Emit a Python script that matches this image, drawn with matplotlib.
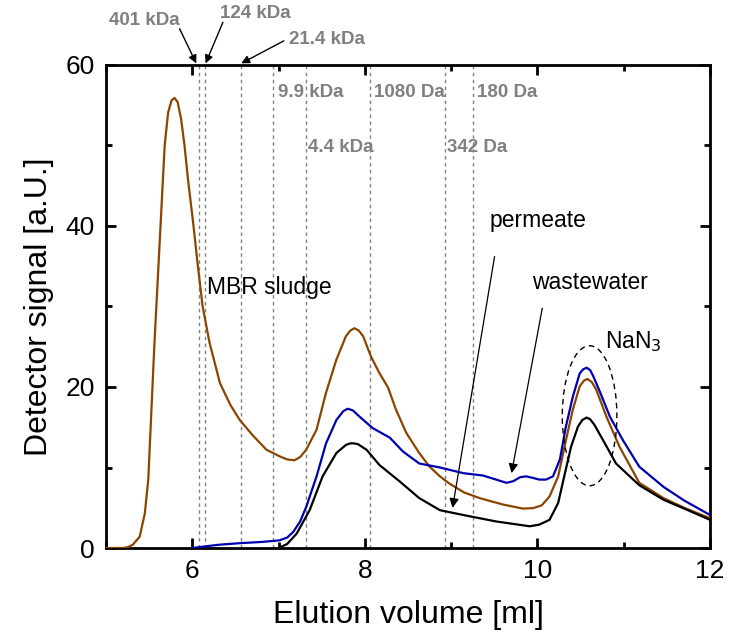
import numpy as np
import matplotlib
matplotlib.use('Agg')
import matplotlib.pyplot as plt
from matplotlib.patches import Ellipse
from matplotlib.ticker import MultipleLocator

plt.rcParams['font.family'] = ['Liberation Sans', 'DejaVu Sans']

# MBR sludge (brown)
sludge_x = [5.0, 5.1, 5.196, 5.25, 5.31, 5.39, 5.45, 5.49, 5.525, 5.56, 5.60, 5.64, 5.68, 5.72,
            5.76, 5.795, 5.83, 5.87, 5.91, 5.95, 6.01, 6.065, 6.12, 6.20, 6.32, 6.44, 6.55,
            6.70, 6.86, 7.01, 7.10, 7.185, 7.25, 7.32, 7.44, 7.55, 7.67, 7.78, 7.83, 7.88,
            7.93, 7.98, 8.07, 8.17, 8.27, 8.36, 8.48, 8.63, 8.75, 8.87, 8.98, 9.15, 9.33,
            9.60, 9.83, 9.95, 10.05, 10.14, 10.24, 10.33, 10.41, 10.49, 10.54, 10.58, 10.63,
            10.68, 10.80, 10.95, 11.18, 11.46, 11.7, 12.0]
sludge_y = [0.0, 0.0, 0.0, 0.1, 0.4, 1.4, 4.3, 8.5, 16.8, 25.1, 33.4, 41.7, 50.0, 54.1,
            55.6, 55.9, 55.4, 53.3, 50.0, 45.8, 40.4, 35.0, 30.0, 25.5, 20.5, 17.8, 15.9,
            14.0, 12.2, 11.4, 11.0, 10.9, 11.3, 12.2, 14.7, 19.3, 23.4, 26.3, 27.0, 27.3,
            27.0, 26.3, 23.8, 21.7, 19.9, 17.2, 14.3, 11.8, 10.1, 8.9, 8.0, 6.9, 6.2,
            5.4, 4.9, 4.95, 5.3, 6.4, 8.9, 13.4, 17.2, 20.1, 20.8, 21.0, 20.6,
            19.7, 16.3, 12.6, 8.1, 6.2, 5.0, 3.7]

# wastewater (blue)
waste_x = [6.0, 6.3, 6.55, 6.8, 7.01, 7.10, 7.17, 7.25, 7.32, 7.44, 7.55, 7.67, 7.75, 7.80,
           7.86, 7.94, 8.09, 8.29, 8.44, 8.63, 8.87, 9.14, 9.37, 9.55, 9.64, 9.72, 9.80,
           9.87, 9.95, 10.02, 10.10, 10.18, 10.26, 10.33, 10.41, 10.49, 10.53, 10.57, 10.61,
           10.64, 10.72, 10.84, 10.99, 11.18, 11.46, 11.7, 12.0]
waste_y = [0.0, 0.4, 0.6, 0.75, 0.95, 1.3, 2.0, 3.3, 5.1, 8.9, 13.0, 15.9, 17.0, 17.3,
           17.1, 16.3, 14.9, 13.7, 12.0, 10.5, 10.0, 9.3, 9.0, 8.4, 8.1, 8.3, 8.8,
           8.9, 8.7, 8.5, 8.5, 8.9, 11.0, 15.1, 18.8, 21.7, 22.2, 22.4, 22.1,
           21.5, 19.5, 16.3, 13.4, 10.1, 7.6, 5.9, 4.1]

# permeate (black)
perm_x = [7.0, 7.1, 7.21, 7.36, 7.51, 7.67, 7.78, 7.83, 7.87, 7.92, 8.02, 8.17, 8.40, 8.63,
          8.87, 9.14, 9.52, 9.91, 10.02, 10.14, 10.24, 10.31, 10.39, 10.47, 10.52, 10.57,
          10.61, 10.66, 10.76, 10.91, 11.18, 11.46, 11.7, 12.0]
perm_y = [0.0, 0.5, 1.8, 4.7, 8.9, 11.8, 12.8, 13.0, 13.0, 12.9, 12.2, 10.3, 8.3, 6.2,
          4.7, 4.1, 3.3, 2.7, 2.9, 3.5, 5.6, 8.9, 12.6, 15.1, 15.9, 16.2,
          16.0, 15.3, 13.4, 10.5, 7.8, 6.0, 4.9, 3.5]

# molecular weight markers
mw_pos = [6.073, 6.146, 6.568, 6.939, 7.313, 8.058, 8.924, 9.252]

fig = plt.figure(figsize=(7.29, 6.37), dpi=100)
ax = fig.add_axes([0.1454, 0.1397, 0.8286, 0.7583])

for p in mw_pos:
    ax.plot([p, p], [0, 60], color='#808080', lw=1.0, ls=(0, (2.5, 2.5)), zorder=1)

ax.plot(sludge_x, sludge_y, color='#8B4500', lw=1.6, zorder=3)
ax.plot(waste_x, waste_y, color='#0000B0', lw=1.6, zorder=3)
ax.plot(perm_x, perm_y, color='black', lw=1.6, zorder=3)

ax.set_xlim(5, 12)
ax.set_ylim(0, 60)
ax.xaxis.set_major_locator(MultipleLocator(2))
ax.xaxis.set_minor_locator(MultipleLocator(1))
ax.yaxis.set_major_locator(MultipleLocator(20))
ax.yaxis.set_minor_locator(MultipleLocator(10))
ax.tick_params(which='both', direction='in', top=True, right=True, width=2, labelsize=19)
ax.tick_params(which='major', length=7, pad=8)
ax.tick_params(which='minor', length=4)
for s in ax.spines.values():
    s.set_linewidth(2)

ax.set_xlabel('Elution volume [ml]', fontsize=23, labelpad=12)
ax.set_ylabel('Detector signal [a.U.]', fontsize=23, labelpad=8)

gray = dict(color='#808080', fontsize=13.5, fontweight='bold')
ax.text(6.99, 56.6, '9.9 kDa', va='center', ha='left', **gray)
ax.text(8.10, 56.6, '1080 Da', va='center', ha='left', **gray)
ax.text(9.30, 56.6, '180 Da', va='center', ha='left', **gray)
ax.text(7.34, 49.8, '4.4 kDa', va='center', ha='left', **gray)
ax.text(8.955, 49.8, '342 Da', va='center', ha='left', **gray)

arr = dict(arrowstyle='-|>', color='black', lw=1.0, mutation_scale=12, shrinkA=0, shrinkB=0)
ax.annotate('', xy=(6.046, 60.2), xytext=(5.853, 64.5), arrowprops=arr, annotation_clip=False)
ax.annotate('', xy=(6.154, 60.2), xytext=(6.355, 65.3), arrowprops=arr, annotation_clip=False)
ax.annotate('', xy=(6.568, 60.2), xytext=(7.061, 63.0), arrowprops=arr, annotation_clip=False)
ax.text(5.44, 65.5, '401 kDa', ha='center', va='center', clip_on=False, **gray)
ax.text(6.73, 66.4, '124 kDa', ha='center', va='center', clip_on=False, **gray)
ax.text(7.56, 63.2, '21.4 kDa', ha='center', va='center', clip_on=False, **gray)

ax.text(6.17, 32.3, 'MBR sludge', fontsize=16.5, va='center', ha='left')
ax.text(9.44, 40.7, 'permeate', fontsize=16.5, va='center', ha='left')
ax.text(9.94, 33.0, 'wastewater', fontsize=16.5, va='center', ha='left')
ax.text(10.78, 25.7, 'NaN$_3$', fontsize=16.5, va='center', ha='left')

arr2 = dict(arrowstyle='-|>', color='black', lw=0.9, mutation_scale=14, shrinkA=0, shrinkB=0)
ax.annotate('', xy=(9.016, 4.98), xytext=(9.503, 36.2), arrowprops=arr2)
ax.annotate('', xy=(9.70, 9.3), xytext=(10.056, 29.8), arrowprops=arr2)

ax.add_patch(Ellipse((10.604, 16.43), 0.633, 17.39, fill=False, ls=(0, (4, 3)),
                     lw=1.0, color='black', zorder=4))

fig.savefig('out.png', dpi=100)
